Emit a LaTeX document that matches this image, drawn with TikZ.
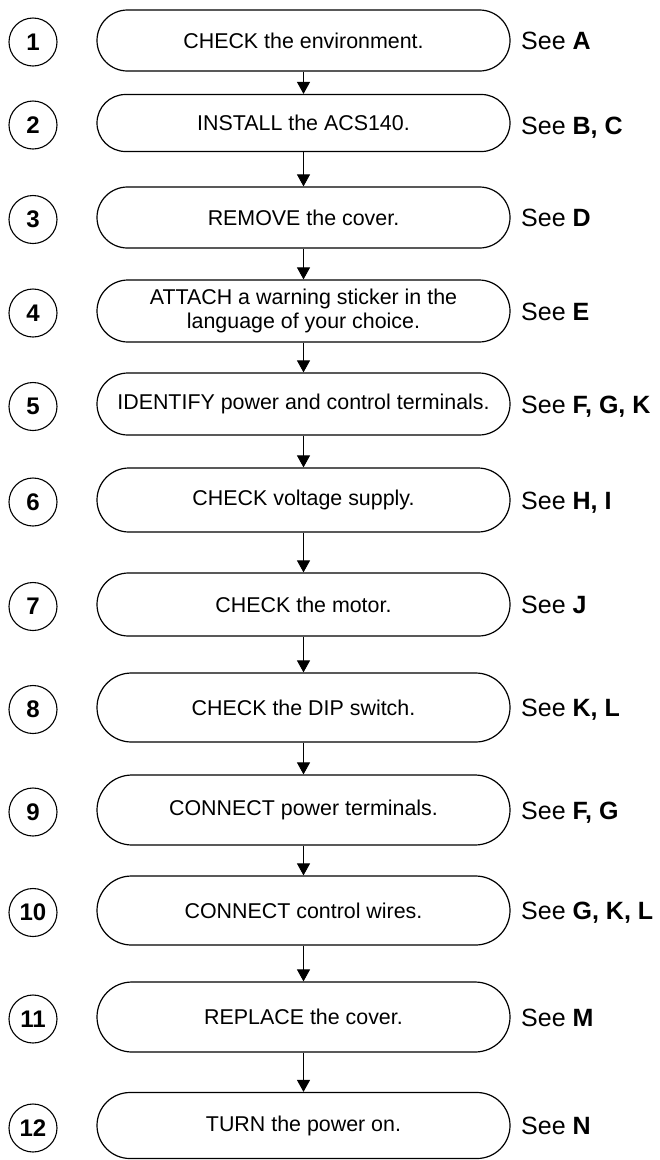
\documentclass[tikz,border=0pt]{standalone}
\usepackage{fontspec}
\setmainfont{Liberation Sans}
\usetikzlibrary{arrows.meta}
\begin{document}
\begin{tikzpicture}[x=1pt,y=1pt,
  stepbox/.style={rectangle, draw, line width=1.2pt,
    minimum width=413pt, inner sep=0pt, align=center,
    font=\fontsize{21.4}{24}\selectfont},
  numcircle/.style={circle, draw, line width=1.1pt, minimum size=48pt, inner sep=0pt,
    font=\fontsize{24}{24}\selectfont\bfseries},
  seelabel/.style={anchor=base west, inner sep=0pt, font=\fontsize{25}{25}\selectfont},
  flow/.style={line width=1pt, -{Triangle[width=13pt,length=12pt]}}
]
\useasboundingbox (0,0) rectangle (660,-1160);

% step boxes
\node[stepbox, minimum height=61pt, rounded corners=30.5pt] (b1)  at (303.5,-40.5)  {CHECK the environment.};
\node[stepbox, minimum height=57pt, rounded corners=28.5pt] (b2)  at (303.5,-123)   {INSTALL the ACS140.};
\node[stepbox, minimum height=61pt, rounded corners=30.5pt] (b3)  at (303.5,-217.5) {REMOVE the cover.};
\node[stepbox, minimum height=62pt, rounded corners=31pt]   (b4)  at (303.5,-311)   {ATTACH a warning sticker in the\\language of your choice.};
\node[stepbox, minimum height=62pt, rounded corners=31pt]   (b5)  at (303.5,-404)   {IDENTIFY power and control terminals.};
\node[stepbox, minimum height=64pt, rounded corners=32pt]   (b6)  at (303.5,-500)   {CHECK voltage supply.};
\node[stepbox, minimum height=63pt, rounded corners=31.5pt] (b7)  at (303.5,-604.5) {CHECK the motor.};
\node[stepbox, minimum height=69pt, rounded corners=34.5pt] (b8)  at (303.5,-707.5) {CHECK the DIP switch.};
\node[stepbox, minimum height=70pt, rounded corners=35pt]   (b9)  at (303.5,-810)   {CONNECT power terminals.};
\node[stepbox, minimum height=69pt, rounded corners=34.5pt] (b10) at (303.5,-910.5) {CONNECT control wires.};
\node[stepbox, minimum height=70pt, rounded corners=35pt]   (b11) at (303.5,-1017)  {REPLACE the cover.};
\node[stepbox, minimum height=66pt, rounded corners=33pt]   (b12) at (303.5,-1125.5){TURN the power on.};

% number circles
\node[numcircle] (n1)  at (33,-42)     {1};
\node[numcircle] (n2)  at (33,-125)    {2};
\node[numcircle] (n3)  at (33,-219.5)  {3};
\node[numcircle] (n4)  at (33,-313)    {4};
\node[numcircle] (n5)  at (33,-406.5)  {5};
\node[numcircle] (n6)  at (33,-502)    {6};
\node[numcircle] (n7)  at (33,-606.5)  {7};
\node[numcircle] (n8)  at (33,-709.5)  {8};
\node[numcircle] (n9)  at (33,-812)    {9};
\node[numcircle] (n10) at (33,-912.5)  {10};
\node[numcircle] (n11) at (33,-1019)   {11};
\node[numcircle] (n12) at (33,-1128)   {12};

% see labels
\node[seelabel] (s1)  at (521,-49.5)   {See \textbf{A}};
\node[seelabel] (s2)  at (521,-134)    {See \textbf{B, C}};
\node[seelabel] (s3)  at (521,-226.5)  {See \textbf{D}};
\node[seelabel] (s4)  at (521,-320)    {See \textbf{E}};
\node[seelabel] (s5)  at (521,-413)    {See \textbf{F, G, K}};
\node[seelabel] (s6)  at (521,-509)    {See \textbf{H, I}};
\node[seelabel] (s7)  at (521,-613.5)  {See \textbf{J}};
\node[seelabel] (s8)  at (521,-716.5)  {See \textbf{K, L}};
\node[seelabel] (s9)  at (521,-819)    {See \textbf{F, G}};
\node[seelabel] (s10) at (521,-919.5)  {See \textbf{G, K, L}};
\node[seelabel] (s11) at (521,-1026)   {See \textbf{M}};
\node[seelabel] (s12) at (521,-1134.5) {See \textbf{N}};

% connectors
\draw[flow] (b1.south)  -- (b2.north);
\draw[flow] (b2.south)  -- (b3.north);
\draw[flow] (b3.south)  -- (b4.north);
\draw[flow] (b4.south)  -- (b5.north);
\draw[flow] (b5.south)  -- (b6.north);
\draw[flow] (b6.south)  -- (b7.north);
\draw[flow] (b7.south)  -- (b8.north);
\draw[flow] (b8.south)  -- (b9.north);
\draw[flow] (b9.south)  -- (b10.north);
\draw[flow] (b10.south) -- (b11.north);
\draw[flow] (b11.south) -- (b12.north);
\end{tikzpicture}
\end{document}
